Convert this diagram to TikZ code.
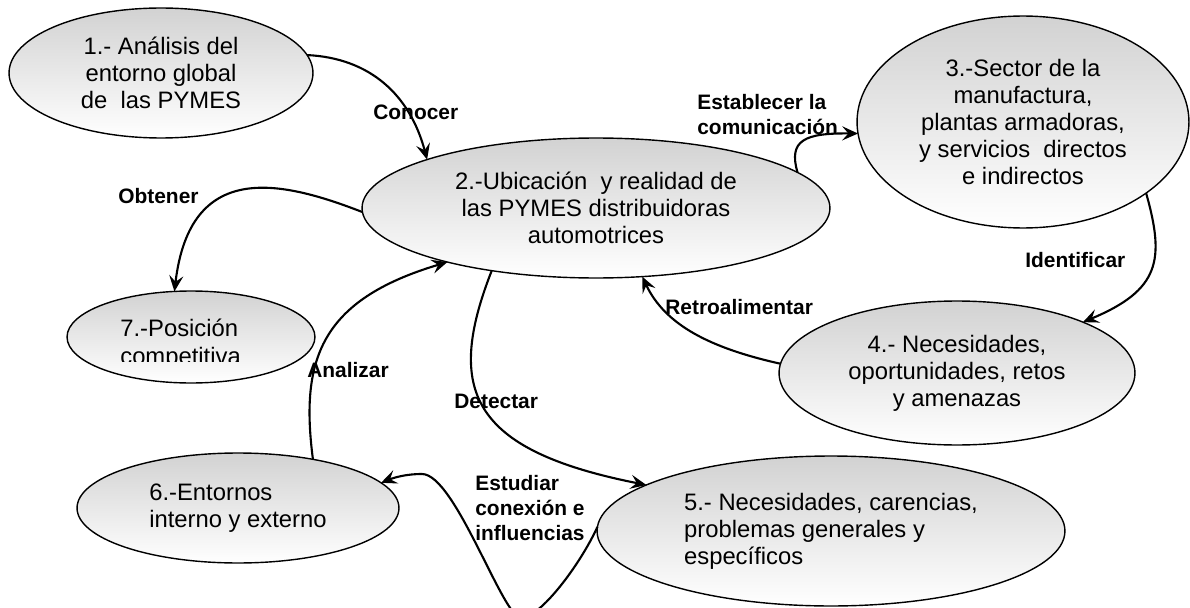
\documentclass[tikz,border=0pt]{standalone}
\usepackage{fontspec}
\setmainfont{Liberation Sans}
\usetikzlibrary{shapes.geometric,arrows.meta}
\definecolor{elltop}{RGB}{210,210,210}

\begin{document}
\begin{tikzpicture}[x=0.02cm, y=-0.02cm,
    fase/.style={ellipse, draw, line width=0.8pt, top color=elltop, bottom color=white,
      inner sep=0pt, outer sep=0pt, align=center, font=\fontsize{13.55}{15.3}\selectfont},
    verbo/.style={anchor=west, inner sep=0pt, align=left, font=\fontsize{11.9}{14.2}\selectfont\bfseries},
    flecha/.style={line width=1.2pt, -{Stealth[length=9pt,width=8pt,inset=3.5pt]}}]
    \useasboundingbox (0,0) rectangle (1190,608);

    % fases
    \node[fase, minimum width=6.08cm, minimum height=2.6cm] (e1) at (161,73) {1.- Análisis del\\entorno global\\de\ \ las PYMES};
    \node[fase, minimum width=9.36cm, minimum height=2.8cm] (e2) at (596,208) {2.-Ubicación\ \ y realidad de\\las PYMES distribuidoras\\automotrices};
    \node[fase, minimum width=6.64cm, minimum height=4.24cm] (e3) at (1023,122) {3.-Sector de la\\manufactura,\\plantas armadoras,\\y servicios\ \ directos\\e indirectos};
    \node[fase, minimum width=7.12cm, minimum height=2.88cm] (e4) at (957,373) {4.- Necesidades,\\oportunidades, retos\\y amenazas};
    \node[fase, align=left, minimum width=9.36cm, minimum height=3cm] (e5) at (831,531) {5.- Necesidades, carencias,\\problemas generales y\\específicos};
    \node[fase, align=left, minimum width=6.44cm, minimum height=2.2cm] (e6) at (238,508) {6.-Entornos\\interno y externo};
    \node[fase, minimum width=4.96cm, minimum height=1.84cm] (e7) at (191,337) {};
    \begin{scope}
      \clip (60,280) rectangle (320,361);
      \node[anchor=base west, inner sep=0pt, align=left, font=\fontsize{13.55}{15.9}\selectfont] (t7) at (120,364) {7.-Posición\\competitiva};
    \end{scope}

    % verbos
    \node[verbo] (l1) at (373,112) {Conocer};
    \node[verbo] (l2) at (697,115) {Establecer la\\comunicación};
    \node[verbo] (l3) at (1025,260) {Identificar};
    \node[verbo] (l4) at (665,307) {Retroalimentar};
    \node[verbo] (l5) at (454,401) {Detectar};
    \node[verbo] (l6) at (475,508) {Estudiar\\conexión e\\influencias};
    \node[verbo] (l7) at (307,370) {Analizar};
    \node[verbo] (l8) at (118,196) {Obtener};

    % flechas
    \coordinate (fondo) at (521,618);
    \coordinate (cima) at (422,474);
    \draw[flecha] (e1.7) .. controls (370,58) and (410,95) .. (e2.164);
    \draw[flecha] (e2.10) .. controls (788,140) and (805,133) .. (e3.184);
    \draw[flecha] (e3.-30) .. controls (1165,260) and (1160,290) .. (e4.22);
    \draw[flecha] (e4.177) .. controls (710,348) and (665,325) .. (e2.-56);
    \draw[flecha] (e2.211) .. controls (445,390) and (470,450) .. (e5.166);
    \draw[flecha] (e5.179) .. controls (580,565) and (540,618) .. (fondo)
        .. controls (503,618) and (455,474) .. (cima)
        .. controls (405,474) and (393,478) .. (e6.10);
    \draw[flecha] (e6.33) .. controls (300,360) and (320,300) .. (e2.200);
    \draw[flecha] (e2.181) .. controls (280,180) and (190,160) .. (e7.110);
\end{tikzpicture}
\end{document}
